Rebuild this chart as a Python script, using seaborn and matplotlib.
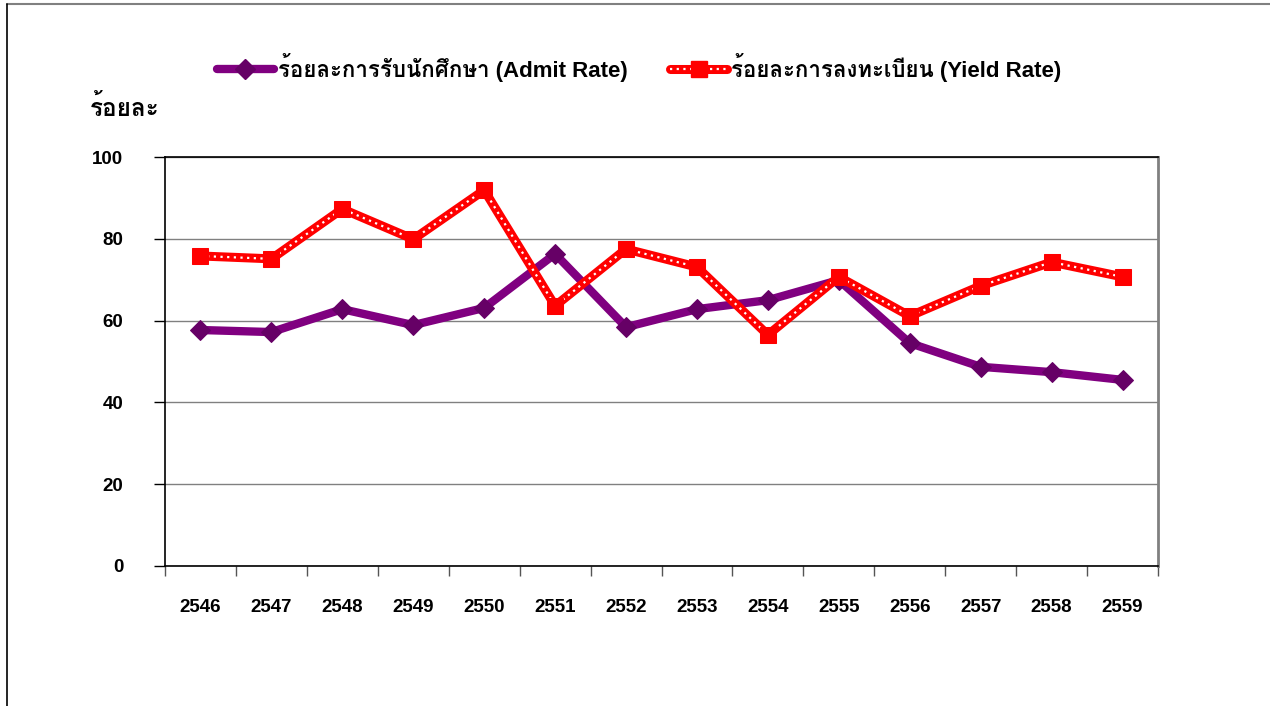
import numpy as np
import pandas as pd
import seaborn as sns
import matplotlib
matplotlib.use("Agg")
import matplotlib.pyplot as plt
from matplotlib import font_manager
from matplotlib.ft2font import FT2Font
from matplotlib.lines import Line2D
from matplotlib.ticker import FixedLocator

years = ["2546", "2547", "2548", "2549", "2550", "2551", "2552",
         "2553", "2554", "2555", "2556", "2557", "2558", "2559"]
admit_rate = [57.7, 57.2, 62.8, 58.9, 63.1, 76.3, 58.4,
              62.8, 65.0, 69.9, 54.5, 48.7, 47.4, 45.5]
yield_rate = [75.8, 75.1, 87.3, 79.9, 91.9, 63.6, 77.5,
              73.1, 56.5, 70.7, 61.1, 68.5, 74.3, 70.7]
admit_label = "ร้อยละการรับนักศึกษา (Admit Rate)"
yield_label = "ร้อยละการลงทะเบียน (Yield Rate)"
y_title = "ร้อยละ"
y_ticks = [0, 20, 40, 60, 80, 100]

sns.set_theme(style="white")

# find a font that has Thai glyphs
thai_family = None
best = None
for fe in font_manager.fontManager.ttflist:
    try:
        cm = FT2Font(fe.fname).get_charmap()
    except Exception:
        continue
    if 0x0E23 in cm and 0x0E49 in cm:
        score = 1 if (fe.weight in ("bold", 700) or str(fe.weight) == "700") else 0
        if best is None or score > best[0]:
            best = (score, fe.name)
if best:
    thai_family = best[1]

fam = ["Liberation Sans"] + ([thai_family] if thai_family else []) + ["DejaVu Sans"]
plt.rcParams["font.family"] = fam
plt.rcParams["font.weight"] = "bold"
for k in ("text.color", "xtick.color", "ytick.color", "axes.labelcolor",
          "xtick.labelcolor", "ytick.labelcolor"):
    plt.rcParams[k] = "black"

df = pd.DataFrame({"year": years, "admit": admit_rate, "yield": yield_rate})
df["pos"] = np.arange(len(years))

fig = plt.figure(figsize=(12.7, 7.06), dpi=100)
ax = fig.add_axes([165 / 1270, 1 - 566 / 706, (1158 - 165) / 1270, (566 - 157) / 706])

purple = "#800080"
purple_dark = "#660066"
red = "#FF0000"

sns.lineplot(data=df, x="pos", y="admit", ax=ax, color=purple, linewidth=6,
             marker="D", markersize=10, markerfacecolor=purple_dark,
             markeredgecolor=purple_dark, zorder=3)
sns.lineplot(data=df, x="pos", y="yield", ax=ax, color=red, linewidth=6.5, zorder=4)
sns.lineplot(data=df, x="pos", y="yield", ax=ax, color="white", linewidth=1.6,
             linestyle=(0, (1, 2.0)), zorder=5)
sns.lineplot(data=df, x="pos", y="yield", ax=ax, color=red, linestyle="none",
             marker="s", markersize=12, markeredgecolor=red, zorder=6)

ax.set_xlim(-0.5, len(years) - 0.5)
ax.set_ylim(0, 100)
ax.set_xlabel("")
ax.set_ylabel("")

ax.xaxis.set_major_locator(FixedLocator(df["pos"].tolist()))
ax.set_xticklabels(years, fontsize=13.5, fontweight="bold", color="black")
ax.xaxis.set_minor_locator(FixedLocator(list(np.arange(-0.5, len(years), 1.0))))
ax.tick_params(axis="x", which="major", length=0, pad=24, bottom=True)
ax.tick_params(axis="x", which="minor", length=7, width=1, color="#555555", bottom=True)
ax.set_yticks(y_ticks)
ax.set_yticklabels([str(v) for v in y_ticks], fontsize=13.5, fontweight="bold", color="black")
ax.tick_params(axis="y", which="major", length=8, width=1, color="black", left=True, pad=22)

ax.grid(axis="y", color="#808080", linewidth=1.0, zorder=0)
ax.grid(axis="x", visible=False)
for side in ("left", "bottom", "top"):
    ax.spines[side].set_color("black")
    ax.spines[side].set_linewidth(1.2)
ax.spines["right"].set_color("#808080")
ax.spines["right"].set_linewidth(2)

h_admit = Line2D([], [], color=purple, linewidth=6, marker="D", markersize=10,
                 markerfacecolor=purple_dark, markeredgecolor=purple_dark)
h_y1 = Line2D([], [], color=red, linewidth=6.5)
h_y2 = Line2D([], [], color="white", linewidth=1.6, linestyle=(0, (1, 2.0)))
h_y3 = Line2D([], [], color=red, linestyle="none", marker="s", markersize=12)
leg = fig.legend([h_admit, (h_y1, h_y2, h_y3)], [admit_label, yield_label],
                 loc="center", bbox_to_anchor=(0.503, 1 - 67 / 706), ncol=2,
                 frameon=False, handlelength=2.6, handletextpad=0.15,
                 columnspacing=1.9, prop={"weight": "bold", "size": 16})
for t in leg.get_texts():
    t.set_color("black")

fig.text(90 / 1270, 1 - 108 / 706, y_title, fontsize=17.5, fontweight="bold",
         ha="left", va="center", color="black")

# outer frame lines
fig.add_artist(Line2D([7 / 1270, 1.0], [1 - 4 / 706, 1 - 4 / 706],
                      transform=fig.transFigure, color="#808080", linewidth=1.5))
fig.add_artist(Line2D([7 / 1270, 7 / 1270], [0, 1 - 4 / 706],
                      transform=fig.transFigure, color="black", linewidth=1.2))

fig.savefig("out.png", dpi=100, facecolor="white")
